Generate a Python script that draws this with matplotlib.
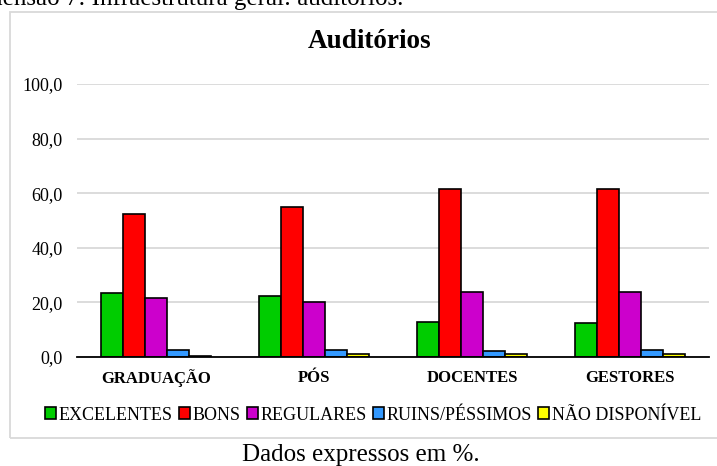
import matplotlib
matplotlib.use("Agg")
import matplotlib.pyplot as plt
from matplotlib.patches import Rectangle
import numpy as np

plt.rcParams['font.family'] = ['Liberation Serif', 'DejaVu Serif']

categories = ["GRADUAÇÃO", "PÓS", "DOCENTES", "GESTORES"]
series_names = ["EXCELENTES", "BONS", "REGULARES", "RUINS/PÉSSIMOS", "NÃO DISPONÍVEL"]
excelentes = [23.3, 22.2, 12.9, 12.4]
bons = [52.3, 54.8, 61.4, 61.4]
regulares = [21.6, 20.0, 23.8, 23.8]
ruins = [2.7, 2.7, 2.1, 2.7]
nao_disponivel = [0.5, 1.1, 1.1, 1.1]
y_ticks = [0, 20, 40, 60, 80, 100]
y_tick_labels = ["0,0", "20,0", "40,0", "60,0", "80,0", "100,0"]

series = [excelentes, bons, regulares, ruins, nao_disponivel]
colors = ["#00cc00", "#ff0000", "#cc00cc", "#3399ff", "#ffff00"]

W, H = 717, 466
fig = plt.figure(figsize=(W / 100, H / 100), dpi=100)

def fx(px):
    return px / W

def fy(py):
    return 1 - py / H

# chart frame
fig.patches.append(Rectangle((fx(10), fy(438)), fx(725) - fx(10), fy(12) - fy(438),
                             transform=fig.transFigure, fill=False,
                             edgecolor="#d9d9d9", linewidth=1.3, zorder=0))

ax = fig.add_axes([fx(77), fy(357), fx(709) - fx(77), fy(84) - fy(357)])

x = np.arange(len(categories))
bw = 0.14
for i, (vals, col, name) in enumerate(zip(series, colors, series_names)):
    ax.bar(x + (i - 2) * bw, vals, width=bw, color=col, edgecolor="black",
           linewidth=1.2, label=name, zorder=3)

ax.set_xlim(-0.5, len(categories) - 0.5)
ax.set_ylim(0, 100)
ax.set_yticks(y_ticks)
ax.set_yticklabels(y_tick_labels, fontsize=13)
ax.set_xticks(x)
ax.set_xticklabels(categories, fontsize=12, fontweight="bold")
ax.tick_params(axis="y", length=0, pad=10.5)
ax.tick_params(axis="x", length=0, pad=9)
ax.yaxis.grid(True, color="#d9d9d9", linewidth=1.3, zorder=0)
ax.set_axisbelow(True)
for side in ("left", "right", "top"):
    ax.spines[side].set_visible(False)
ax.spines["bottom"].set_color("black")
ax.spines["bottom"].set_linewidth(1.3)
ax.spines["bottom"].set_zorder(4)

leg = fig.legend(loc="center", bbox_to_anchor=(fx(373), fy(415)), ncol=5,
                 frameon=False, fontsize=13, handlelength=0.6, handleheight=0.6,
                 handletextpad=0.15, columnspacing=0.35, borderpad=0)

fig.text(fx(370), fy(41), "Auditórios", ha="center", va="center",
         fontsize=19.5, fontweight="bold")
fig.text(fx(-42), fy(5), "Dimensão 7: Infraestrutura geral: auditórios.",
         ha="left", va="baseline", fontsize=18)
fig.text(fx(361), fy(455), "Dados expressos em %.", ha="center", va="center",
         fontsize=18)

fig.savefig("out.png", dpi=100)
